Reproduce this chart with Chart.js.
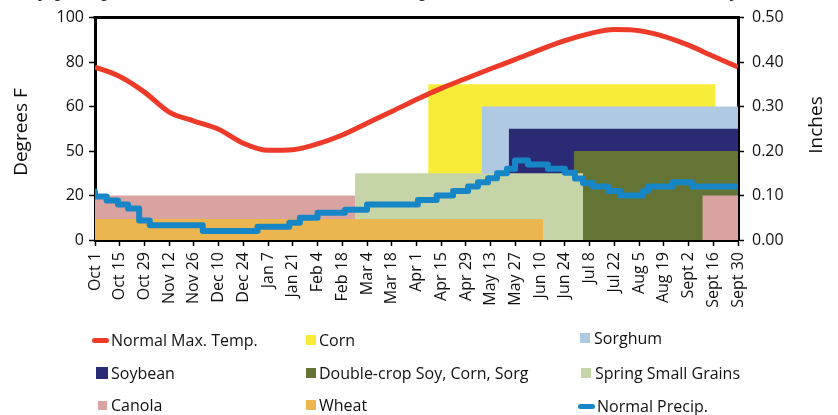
<!DOCTYPE html>
<html>
<head>
<meta charset="utf-8">
<script src="https://cdn.jsdelivr.net/npm/chart.js@4.4.1/dist/chart.umd.min.js"></script>
<style>
  html,body{margin:0;padding:0;background:#fff;}
  #wrap{position:relative;width:838px;height:415px;overflow:hidden;}
  #c{position:absolute;left:0;top:0;}
  .cap{position:absolute;left:16px;top:-24px;white-space:nowrap;font-family:"Liberation Serif",serif;font-style:italic;font-size:23px;color:#222;}
  .lg{position:absolute;font-family:"Open Sans",sans-serif;font-size:16px;color:#111;white-space:nowrap;line-height:18px;}
  .sw{position:absolute;}
</style>
</head>
<body>
<div id="wrap">
  <canvas id="c" width="838" height="415"></canvas>
  <div class="cap">aily precipitation and normal maximum temperature at Manhattan, Kansas, by date</div>
  <div id="legend"></div>
</div>
<script>
// ---- data ----
const dayLabels = ['Oct 1','Oct 15','Oct 29','Nov 12','Nov 26','Dec 10','Dec 24','Jan 7','Jan 21','Feb 4','Feb 18','Mar 4','Mar 18','Apr 1','Apr 15','Apr 29','May 13','May 27','Jun 10','Jun 24','Jul 8','Jul 22','Aug 5','Aug 19','Sept 2','Sept 16','Sept 30'];
const leftTickLabels = ['0','20','50','60','80','100'];

const tempDays = [0,14,28,42,56,70,84,98,112,126,140,154,168,182,196,210,224,238,252,266,280,294,308,322,336,350,364];
const tempF    = [77.8,73.5,66.5,57.5,53.5,49.8,43.5,40.3,40.6,43.2,47.2,52.5,57.8,63.2,68.2,72.6,77.0,81.2,85.6,89.6,92.8,94.6,94.1,91.6,87.6,82.6,77.8];

const precipDays = [0,6.6,13,18.7,25,31,61,92,110,116,126,141.5,154,182.8,193.4,202.7,211.2,216.8,222.5,227.6,233.2,237.8,245.1,256.4,266,271.7,276.2,281.9,290.4,297.2,307.4,310.2,313,327.1,337.9,358.3,364];
const precipIn   = [0.109,0.098,0.089,0.080,0.071,0.044,0.033,0.020,0.030,0.039,0.050,0.061,0.068,0.080,0.090,0.100,0.110,0.120,0.130,0.139,0.150,0.160,0.179,0.170,0.160,0.151,0.138,0.128,0.120,0.110,0.100,0.100,0.110,0.120,0.130,0.120,0.120];

const cropNames  = ['Corn','Sorghum','Soybean','Double-crop Soy, Corn, Sorg','Spring Small Grains','Canola','Canola','Wheat'];
const cropStart  = [188.6,218.9,234.2,271.0,147.2,0,343.8,0];
const cropEnd    = [351.4,364,364,364,276.3,147.2,364,253.6];
const cropTop    = [0.35,0.30,0.25,0.20,0.15,0.10,0.10,0.047];
const cropColors = ['#F7EC37','#B0C9E2','#2B2A74','#647434','#C6D5A8','#D9A3A2','#D9A3A2','#EBB64F'];
const cropOrder  = [9,8,7,6,5,4,4,3];

const tempColor = '#EE3A28';
const precipColor = '#1786C7';

// ---- datasets ----
const datasets = [];
datasets.push({
  label:'Normal Max. Temp.', yAxisID:'y', order:0,
  data: tempDays.map((d,i)=>({x:d,y:tempF[i]})),
  borderColor: tempColor, borderWidth:5, pointRadius:0, tension:0.4, cubicInterpolationMode:'monotone', fill:false
});
datasets.push({
  label:'Normal Precip.', yAxisID:'y1', order:1,
  data: precipDays.map((d,i)=>({x:d,y:precipIn[i]})),
  borderColor: precipColor, borderWidth:6, pointRadius:0, stepped:'after', fill:false, borderJoinStyle:'round', borderCapStyle:'round'
});
cropNames.forEach((n,i)=>{
  datasets.push({
    label:n, yAxisID:'y1', order:cropOrder[i],
    data:[{x:cropStart[i],y:cropTop[i]},{x:cropEnd[i],y:cropTop[i]}],
    borderWidth:0, borderColor:cropColors[i], backgroundColor:cropColors[i],
    pointRadius:0, fill:'origin', tension:0
  });
});

const FONT = '"Open Sans", sans-serif';

const frame = {
  id:'frame',
  afterDatasetsDraw(chart){
    const {ctx, chartArea:a} = chart;
    ctx.save();
    ctx.strokeStyle='#000'; ctx.lineWidth=3;
    ctx.beginPath(); ctx.moveTo(a.left-1.5,a.top); ctx.lineTo(a.right+1.5,a.top); ctx.stroke();
    ctx.restore();
  },
  afterDraw(chart){
    const ctx = chart.ctx;
    ctx.save();
    ctx.fillStyle='#111';
    ctx.font = '19px '+FONT;
    ctx.textAlign='center'; ctx.textBaseline='middle';
    ctx.translate(22,132); ctx.rotate(-Math.PI/2); ctx.fillText('Degrees F',0,0);
    ctx.restore();
    ctx.save();
    ctx.fillStyle='#111';
    ctx.font = '19px '+FONT;
    ctx.textAlign='center'; ctx.textBaseline='middle';
    ctx.translate(817,125); ctx.rotate(-Math.PI/2); ctx.fillText('Inches',0,0);
    ctx.restore();
  }
};

const axisCommon = {
  border:{display:true,color:'#000',width:3},
  grid:{drawOnChartArea:false, drawTicks:true, tickLength:6, tickWidth:1.5, tickColor:'#000'},
};

new Chart(document.getElementById('c'), {
  type:'line',
  data:{datasets},
  options:{
    responsive:false, animation:false, devicePixelRatio:1,
    layout:{padding:{left:0,right:0,top:15,bottom:0}},
    plugins:{legend:{display:false}, tooltip:{enabled:false}},
    scales:{
      x:{
        type:'linear', min:0, max:364, position:'bottom',
        ...axisCommon,
        ticks:{stepSize:14, autoSkip:false, maxRotation:90, minRotation:90, padding:6,
          color:'#111', font:{family:FONT,size:16},
          callback:(v)=> dayLabels[Math.round(v/14)] },
        afterFit(s){ s.height = 175; }
      },
      y:{
        type:'linear', min:0, max:100, position:'left',
        ...axisCommon,
        ticks:{stepSize:20, padding:5, color:'#111', font:{family:FONT,size:16},
          callback:(v)=> leftTickLabels[Math.round(v/20)] },
        afterFit(s){ s.width = 95; }
      },
      y1:{
        type:'linear', min:0, max:0.5, position:'right',
        ...axisCommon,
        ticks:{stepSize:0.1, padding:8, color:'#111', font:{family:FONT,size:16},
          callback:(v)=> v.toFixed(2) },
        afterFit(s){ s.width = 100; }
      }
    }
  },
  plugins:[frame]
});

// ---- legend (HTML) ----
const legendItems = [
  {t:'Normal Max. Temp.', c:tempColor, kind:'line', x:92, y:340, tx:111},
  {t:'Corn', c:cropColors[0], kind:'sq', s:10, x:306, y:340, tx:319},
  {t:'Sorghum', c:cropColors[1], kind:'sq', s:10, x:580, y:338, tx:594},
  {t:'Soybean', c:cropColors[2], kind:'sq', s:12, x:96, y:373, tx:111},
  {t:'Double-crop Soy, Corn, Sorg', c:cropColors[3], kind:'sq', s:10, x:306, y:373, tx:319},
  {t:'Spring Small Grains', c:cropColors[4], kind:'sq', s:10, x:581, y:373, tx:595},
  {t:'Canola', c:cropColors[5], kind:'sq', s:9, x:98, y:405, tx:111},
  {t:'Wheat', c:cropColors[7], kind:'sq', s:10, x:306, y:405, tx:319},
  {t:'Normal Precip.', c:precipColor, kind:'line', x:578, y:406, tx:597},
];
const lg = document.getElementById('legend');
legendItems.forEach(it=>{
  const sw = document.createElement('div'); sw.className='sw';
  if(it.kind==='line'){
    sw.style.cssText = `left:${it.x}px;top:${it.y-2.5}px;width:${it.tx-it.x-2}px;height:5px;border-radius:3px;background:${it.c};`;
  } else {
    sw.style.cssText = `left:${it.x}px;top:${it.y-it.s/2}px;width:${it.s}px;height:${it.s}px;background:${it.c};`;
  }
  lg.appendChild(sw);
  const tx = document.createElement('div'); tx.className='lg';
  tx.textContent = it.t;
  tx.style.left = it.tx+'px'; tx.style.top = (it.y-9)+'px';
  lg.appendChild(tx);
});
</script>
</body>
</html>
